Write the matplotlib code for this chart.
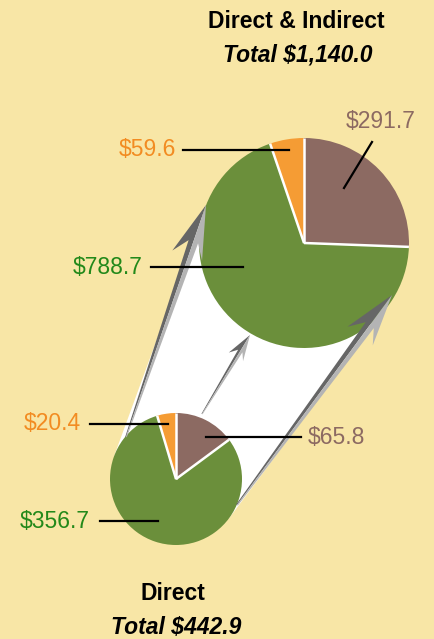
import numpy as np
import matplotlib.pyplot as plt
from matplotlib.patches import Polygon

plt.rcParams['font.family'] = ['Liberation Sans', 'DejaVu Sans']

# data
slice_names = ['Indirect', 'Direct', 'Other']
big_values = [291.7, 788.7, 59.6]      # Direct & Indirect
small_values = [65.8, 356.7, 20.4]     # Direct
big_title = 'Direct & Indirect'
small_title = 'Direct'

slice_colors = ['#8c6a62', '#6b8f3b', '#f59c34']
text_colors = ['#8c6a62', '#23891a', '#f28c22']
bg = '#f8e6a6'

H = 639


def P(x, y):
    # pixel coords (y down) -> axes data coords (y up)
    return (x, H - y)


fig = plt.figure(figsize=(4.35, 6.39), dpi=100, facecolor=bg)
ax = fig.add_axes([0, 0, 1, 1])
ax.set_facecolor(bg)

big_c, big_r = P(304, 243), 105
small_c, small_r = P(176, 479), 66


def draw_pie(values, center, radius):
    wedges, _ = ax.pie(values, colors=slice_colors, startangle=90, counterclock=False,
                       center=center, radius=radius)
    for w in wedges:
        w.set_zorder(3)
    # white separators between slices
    total = sum(values)
    angles = 90 - 360 * np.concatenate([[0], np.cumsum(values)[:-1]]) / total
    for a in angles:
        ex = center[0] + radius * np.cos(np.radians(a))
        ey = center[1] + radius * np.sin(np.radians(a))
        ax.plot([center[0], ex], [center[1], ey], color='white', lw=1.8, zorder=3.5,
                solid_capstyle='butt')


# white band joining the two pies (outer tangents)
c1, c2 = np.array(small_c, float), np.array(big_c, float)
d = c2 - c1
u = d / np.linalg.norm(d)
perp = np.array([-u[1], u[0]])
s = (small_r - big_r) / np.linalg.norm(d)
pts = []
for sign in (1, -1):
    n = s * u + sign * np.sqrt(1 - s ** 2) * perp
    pts.append((c1 + small_r * n, c2 + big_r * n))
band = [pts[0][0], pts[0][1], pts[1][1], pts[1][0]]
ax.add_patch(Polygon(band, closed=True, facecolor='white', edgecolor='none', zorder=1))

draw_pie(big_values, big_c, big_r)
draw_pie(small_values, small_c, small_r)


def shaded_arrow(tail, tip, w_tail, w_neck, head_len, head_w):
    t = np.array(P(*tail), float)
    p = np.array(P(*tip), float)
    v = p - t
    u = v / np.linalg.norm(v)
    n = np.array([-u[1], u[0]])
    neck = p - u * head_len * 0.72
    barb = p - u * head_len
    dark = [t, t + n * w_tail, neck + n * w_neck, barb + n * head_w, p]
    light = [t, t - n * w_tail, neck - n * w_neck, barb - n * head_w * 0.85, p]
    ax.add_patch(Polygon(dark, closed=True, facecolor='#666666', edgecolor='none', zorder=4))
    ax.add_patch(Polygon(light, closed=True, facecolor='#b4b4b4', edgecolor='none', zorder=4))


shaded_arrow((126, 437), (206, 205), 0.8, 5, 54, 17)
shaded_arrow((202, 414), (250, 335), 0.6, 2.5, 26, 9)
shaded_arrow((237, 505), (392, 295), 1.0, 5, 52, 17)

# value labels: (text x, text y, ha, line start, line end)
big_layout = [
    ((346, 121), 'left', (372, 142), (344, 188)),
    ((143, 268), 'right', (151, 267), (243, 267)),
    ((176, 150), 'right', (183, 150), (289, 150)),
]
small_layout = [
    ((308, 438), 'left', (301, 437), (206, 437)),
    ((90, 522), 'right', (100, 521), (158, 521)),
    ((81, 424), 'right', (90, 424), (168, 424)),
]

for values, layout in ((big_values, big_layout), (small_values, small_layout)):
    for v, col, (txy, ha, l0, l1) in zip(values, text_colors, layout):
        ax.text(*P(*txy), '$%.1f' % v, color=col, fontsize=16.5, ha=ha, va='center',
                zorder=6)
        ax.plot([P(*l0)[0], P(*l1)[0]], [P(*l0)[1], P(*l1)[1]], color='black', lw=1.6,
                zorder=5)

ax.text(*P(296, 21), big_title, fontsize=16.5, fontweight='bold', ha='center', va='center')
ax.text(*P(298, 55), 'Total ${:,.1f}'.format(sum(big_values)), fontsize=16.5,
        fontweight='bold', fontstyle='italic', ha='center', va='center')
ax.text(*P(173, 593), small_title, fontsize=16.5, fontweight='bold', ha='center', va='center')
ax.text(*P(176, 627), 'Total ${:,.1f}'.format(sum(small_values)), fontsize=16.5,
        fontweight='bold', fontstyle='italic', ha='center', va='center')

ax.set_xlim(0, 435)
ax.set_ylim(0, H)
ax.set_aspect('equal')
ax.axis('off')

fig.savefig('out.png', dpi=100, facecolor=bg)
